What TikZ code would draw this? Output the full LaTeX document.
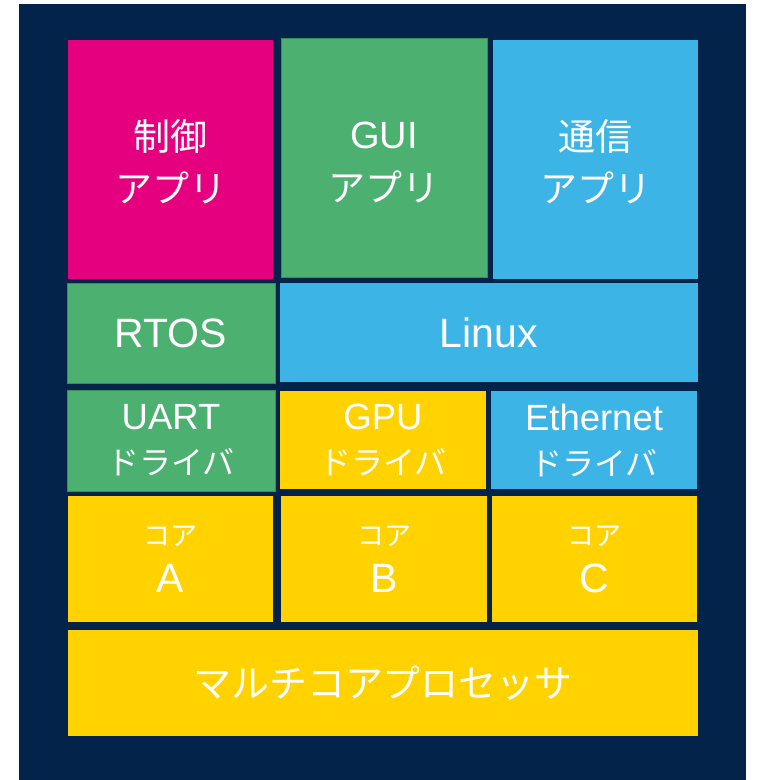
\documentclass[tikz,border=0pt]{standalone}
\usepackage{fontspec}
\setmainfont{Liberation Sans}
\newfontfamily\jp{Noto Sans CJK JP}
\definecolor{navy}{RGB}{3,35,75}
\definecolor{cpink}{RGB}{228,0,127}
\definecolor{cgreen}{RGB}{76,176,112}
\definecolor{cgreenline}{RGB}{58,140,88}
\definecolor{cblue}{RGB}{61,180,230}
\definecolor{cyellow}{RGB}{255,210,0}
\newcommand{\fs}[2]{\fontsize{#1}{#2}\selectfont}
\begin{document}
\begin{tikzpicture}[x=1pt,y=-1pt,
  blk/.style={rectangle, inner sep=0pt, outer sep=0pt, text=white, align=center, anchor=north west},
  pinkbox/.style={blk, fill=cpink},
  greenbox/.style={blk, fill=cgreen, draw=cgreenline, line width=0.8pt},
  bluebox/.style={blk, fill=cblue},
  yellowbox/.style={blk, fill=cyellow},
  apptext/.style={font=\jp\fs{37}{52}, text height=89pt, text depth=3pt},
  drvtext/.style={font=\fs{36.5}{45}},
  coretext/.style={font=\fs{41}{47}},
  ostext/.style={font=\fs{41}{46}}
]
\useasboundingbox (0,0) rectangle (759,780);
\fill[navy] (19,4) rectangle (746,780);

% application row
\node[pinkbox, apptext, minimum width=205pt, minimum height=239pt] (ctrl) at (68,40) {制御\\アプリ};
\node[greenbox, font=\fs{38}{53}, text height=91pt, text depth=3pt, minimum width=206pt, minimum height=239pt] (gui) at (281,38) {GUI\\{\jp\fs{37}{52}アプリ}};
\node[bluebox, apptext, minimum width=205pt, minimum height=239pt] (comm) at (493,40) {通信\\アプリ};

% OS row
\node[greenbox, ostext, minimum width=208pt, minimum height=100pt] (rtos) at (67,283) {RTOS};
\node[bluebox, ostext, minimum width=418pt, minimum height=99pt] (linux) at (280,283) {Linux};

% driver row
\node[greenbox, drvtext, minimum width=208pt, minimum height=101pt] (uart) at (67,390) {UART\\{\jp\fs{32}{40}ドライバ}};
\node[yellowbox, drvtext, minimum width=206pt, minimum height=98pt] (gpu) at (280,391) {GPU\\{\jp\fs{32}{40}ドライバ}};
\node[bluebox, drvtext, minimum width=206pt, minimum height=98pt] (eth) at (491,391) {Ethernet\\{\jp\fs{32}{40}ドライバ}};

% core row
\node[yellowbox, coretext, minimum width=205pt, minimum height=126pt] (corea) at (68,496) {{\jp\fs{27}{30}コア}\\A};
\node[yellowbox, coretext, minimum width=206pt, minimum height=126pt] (coreb) at (281,496) {{\jp\fs{27}{30}コア}\\B};
\node[yellowbox, coretext, minimum width=205pt, minimum height=126pt] (corec) at (492,496) {{\jp\fs{27}{30}コア}\\C};

% processor
\node[yellowbox, font=\jp\fs{38}{44}, minimum width=630pt, minimum height=106pt] (mcp) at (68,630) {マルチコアプロセッサ};
\end{tikzpicture}
\end{document}
